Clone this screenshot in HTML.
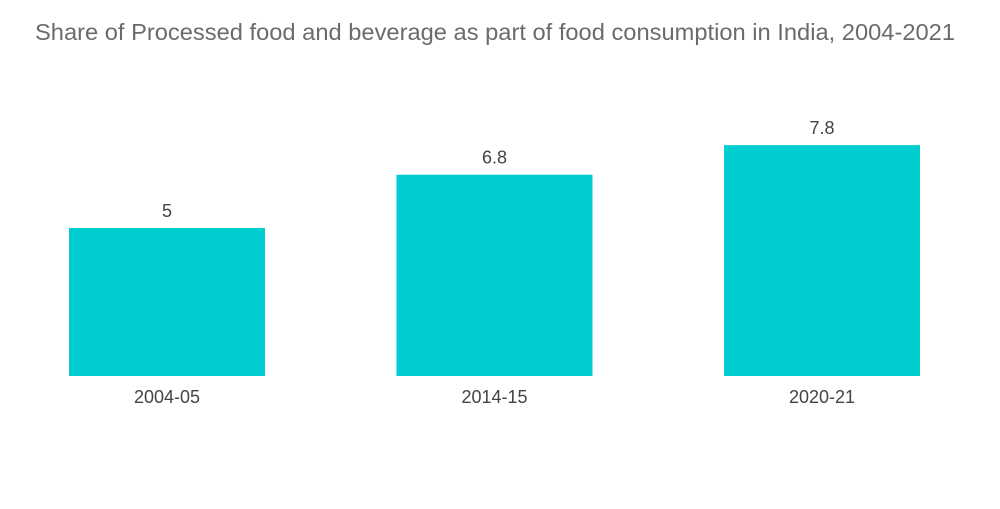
<!DOCTYPE html>
<html><head><meta charset="utf-8"><style>
body{margin:0;background:#fff;width:1000px;height:504px;overflow:hidden;font-family:"Liberation Sans",sans-serif}
</style></head><body>
<svg width="1000" height="504">
<text x="35" y="40" font-size="23" fill="#6b6b6b" textLength="920" lengthAdjust="spacingAndGlyphs">Share of Processed food and beverage as part of food consumption in India, 2004-2021</text>
<g id="bars"></g>
</svg>
<script>
const categories=["2004-05","2014-15","2020-21"];
const values=[5,6.8,7.8];
const valueLabels=["5","6.8","7.8"];
const baseY=376, pxPerUnit=29.6, x0=69, step=327.5, bw=196;
const y=v=>baseY-v*pxPerUnit;
const g=document.getElementById('bars');
const ns="http://www.w3.org/2000/svg";
categories.forEach((c,i)=>{
  const x=x0+i*step;
  const r=document.createElementNS(ns,'rect');
  
  
  r.setAttribute('x',x);r.setAttribute('y',y(values[i]));
  r.setAttribute('width',bw);r.setAttribute('height',baseY-y(values[i]));
  r.setAttribute('fill','#00cdd0');g.appendChild(r);
  const t=document.createElementNS(ns,'text');
  
  
  t.setAttribute('x',x+bw/2);t.setAttribute('y',y(values[i])-11);
  t.setAttribute('text-anchor','middle');t.setAttribute('font-size','18');t.setAttribute('fill','#444');
  t.textContent=valueLabels[i];g.appendChild(t);
  const l=document.createElementNS(ns,'text');
  
  
  l.setAttribute('x',x+bw/2);l.setAttribute('y',403);
  l.setAttribute('text-anchor','middle');l.setAttribute('font-size','18');l.setAttribute('fill','#444');
  l.textContent=c;g.appendChild(l);
});
</script>
</body></html>
